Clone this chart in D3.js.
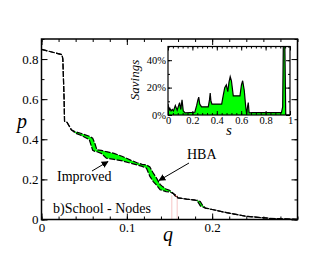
<!DOCTYPE html>
<html>
<head>
<meta charset="utf-8">
<script src="https://cdn.jsdelivr.net/npm/d3@7"></script>
<style>
  body { margin: 0; background: #fff; }
  svg, svg text { font-family: "Liberation Serif", "Times New Roman", "DejaVu Serif", serif; }
</style>
</head>
<body>
<div id="chart"></div>
<script>
// main panel: fraction p vs q for the two strategies
const qVals = [0, 0.012, 0.024, 0.025, 0.0265, 0.027, 0.030, 0.035, 0.040, 0.046, 0.056, 0.060, 0.0625, 0.065,
  0.070, 0.076, 0.085, 0.095, 0.105, 0.112, 0.118, 0.123, 0.127, 0.131, 0.135, 0.139, 0.142, 0.146, 0.150,
  0.154, 0.156, 0.158, 0.160, 0.170, 0.180, 0.183, 0.186, 0.189, 0.192, 0.200, 0.217, 0.240, 0.267, 0.300];
const pHBA = [0.848, 0.835, 0.822, 0.80, 0.60, 0.49, 0.484, 0.447, 0.437, 0.430, 0.415, 0.405, 0.38, 0.347,
  0.345, 0.338, 0.330, 0.314, 0.295, 0.283, 0.275, 0.272, 0.262, 0.231, 0.205, 0.175, 0.164, 0.152, 0.146,
  0.132, 0.120, 0.112, 0.108, 0.102, 0.097, 0.096, 0.090, 0.070, 0.058, 0.050, 0.034, 0.016, 0.006, 0.001];
const pImproved = [0.848, 0.835, 0.822, 0.80, 0.60, 0.49, 0.484, 0.447, 0.430, 0.420, 0.398, 0.345, 0.340, 0.338,
  0.330, 0.306, 0.300, 0.292, 0.280, 0.272, 0.265, 0.256, 0.215, 0.189, 0.170, 0.148, 0.145, 0.139, 0.138,
  0.130, 0.126, 0.119, 0.108, 0.102, 0.097, 0.090, 0.068, 0.062, 0.056, 0.050, 0.034, 0.016, 0.006, 0.001];
const markQ = [0.1527, 0.159];

const qTicks = [0, 0.1, 0.2];
const pTicks = [0, 0.2, 0.4, 0.6, 0.8];

// inset: savings vs s
const sVals = [0, 0.008, 0.015, 0.025, 0.035, 0.045, 0.06, 0.075, 0.095, 0.105, 0.115, 0.125, 0.14, 0.22,
  0.235, 0.245, 0.252, 0.26, 0.275, 0.33, 0.34, 0.346, 0.352, 0.36, 0.44, 0.452, 0.465, 0.478, 0.49, 0.5,
  0.51, 0.52, 0.535, 0.59, 0.602, 0.612, 0.625, 0.637, 0.645, 0.652, 0.658, 0.665, 0.69, 0.93, 0.94, 0.945,
  0.958, 0.965, 1];
const savings = [0.08, 0.03, 0.05, 0.03, 0.04, 0.03, 0.07, 0.035, 0.09, 0.04, 0.11, 0.03, 0.015, 0.02,
  0.07, 0.11, 0.13, 0.08, 0.06, 0.06, 0.11, 0.16, 0.10, 0.08, 0.08, 0.14, 0.20, 0.22, 0.17, 0.24,
  0.28, 0.25, 0.14, 0.14, 0.22, 0.25, 0.18, 0.06, 0.005, 0.06, 0.09, 0.015, 0.017, 0.017, 0.06, 0.50,
  0.50, 0, 0];
const sTicks = [0, 0.2, 0.4, 0.6, 0.8, 1];
const savTicks = [0, 0.2, 0.4];

const W = 335, H = 259;
const serif = '"Liberation Serif", "Times New Roman", "DejaVu Serif", serif';

const svg = d3.select('#chart').append('svg')
  .attr('width', W)
  .attr('height', H)
  .attr('font-family', serif);

const x = d3.scaleLinear().domain([0, 0.3]).range([41.5, 297.5]);
const y = d3.scaleLinear().domain([0, 0.9]).range([219.5, 39]);

const main = svg.append('g').attr('class', 'main');

const pts = qVals.map((q, i) => ({ q, h: pHBA[i], m: pImproved[i] }));

// green: HBA above improved; red: the other way round
main.append('path')
  .datum(pts)
  .attr('fill', '#00ff00')
  .attr('d', d3.area().x(d => x(d.q)).y0(d => y(d.m)).y1(d => y(Math.max(d.h, d.m))));
main.append('path')
  .datum(pts)
  .attr('fill', '#ff0000')
  .attr('d', d3.area().x(d => x(d.q)).y0(d => y(d.h)).y1(d => y(Math.max(d.h, d.m))));

main.selectAll('line.mark')
  .data(markQ)
  .enter().append('line')
  .attr('class', 'mark')
  .attr('x1', d => x(d)).attr('x2', d => x(d))
  .attr('y1', y(0)).attr('y2', y(0.12))
  .attr('stroke', '#f4b8b8')
  .attr('stroke-width', 0.8);

main.append('path')
  .datum(pts)
  .attr('fill', 'none')
  .attr('stroke', '#000')
  .attr('stroke-width', 1.2)
  .attr('stroke-dasharray', '6,1.5')
  .attr('d', d3.line().x(d => x(d.q)).y(d => y(d.m)));
main.append('path')
  .datum(pts)
  .attr('fill', 'none')
  .attr('stroke', '#000')
  .attr('stroke-width', 1.2)
  .attr('stroke-dasharray', '6,1.5')
  .attr('d', d3.line().x(d => x(d.q)).y(d => y(d.h)));

// axes, ticks pointing inward on all four sides
const fmt = d => d === 0 ? '0' : d3.format('.1f')(d);
const minorQ = d3.range(0, 0.3001, 0.02);
const minorP = d3.range(0, 0.9001, 0.1);

const drawAxis = (g, axis) => g.call(axis)
  .attr('font-family', serif)
  .call(a => a.select('.domain').remove());

drawAxis(main.append('g').attr('transform', `translate(0,${y(0)})`),
  d3.axisBottom(x).tickValues(minorQ).tickSize(-3).tickFormat(''));
drawAxis(main.append('g').attr('transform', `translate(0,${y(0)})`),
  d3.axisBottom(x).tickValues(qTicks).tickSize(-6).tickPadding(3).tickFormat(fmt));
drawAxis(main.append('g').attr('transform', `translate(0,${y(0.9)})`),
  d3.axisTop(x).tickValues(minorQ).tickSize(-3).tickFormat(''));
drawAxis(main.append('g').attr('transform', `translate(0,${y(0.9)})`),
  d3.axisTop(x).tickValues(qTicks).tickSize(-6).tickFormat(''));
drawAxis(main.append('g').attr('transform', `translate(${x(0)},0)`),
  d3.axisLeft(y).tickValues(minorP).tickSize(-3).tickFormat(''));
drawAxis(main.append('g').attr('transform', `translate(${x(0)},0)`),
  d3.axisLeft(y).tickValues(pTicks).tickSize(-6).tickPadding(3).tickFormat(fmt));
drawAxis(main.append('g').attr('transform', `translate(${x(0.3)},0)`),
  d3.axisRight(y).tickValues(minorP).tickSize(-3).tickFormat(''));
drawAxis(main.append('g').attr('transform', `translate(${x(0.3)},0)`),
  d3.axisRight(y).tickValues(pTicks).tickSize(-6).tickFormat(''));

main.selectAll('.tick line').attr('stroke', '#000').attr('stroke-width', 1);
main.selectAll('.tick text')
  .attr('fill', '#000')
  .attr('font-size', 13);

main.append('rect')
  .attr('x', x(0)).attr('y', y(0.9))
  .attr('width', x(0.3) - x(0)).attr('height', y(0) - y(0.9))
  .attr('fill', 'none')
  .attr('stroke', '#000')
  .attr('stroke-width', 1.5);

main.append('text')
  .attr('x', 22).attr('y', 128)
  .attr('text-anchor', 'middle')
  .attr('font-style', 'italic')
  .attr('font-size', 20)
  .text('p');
main.append('text')
  .attr('x', 168).attr('y', 241)
  .attr('text-anchor', 'middle')
  .attr('font-style', 'italic')
  .attr('font-size', 20)
  .text('q');

// annotations
svg.append('defs').append('marker')
  .attr('id', 'head')
  .attr('viewBox', '0 0 10 10')
  .attr('refX', 9).attr('refY', 5)
  .attr('markerWidth', 7).attr('markerHeight', 7)
  .attr('markerUnits', 'userSpaceOnUse')
  .attr('orient', 'auto')
  .append('path')
  .attr('d', 'M0,0L10,5L0,10z')
  .attr('fill', '#000');

const notes = main.append('g').attr('font-size', 14);
notes.append('text').attr('x', 57).attr('y', 181).text('Improved');
notes.append('text').attr('x', 187).attr('y', 159).text('HBA');
notes.append('text').attr('x', 53).attr('y', 213).text('b)School - Nodes');

notes.append('line')
  .attr('x1', 92).attr('y1', 171).attr('x2', 108).attr('y2', 161.5)
  .attr('stroke', '#000').attr('stroke-width', 1)
  .attr('marker-end', 'url(#head)');
notes.append('line')
  .attr('x1', 189).attr('y1', 163).attr('x2', 159).attr('y2', 180.5)
  .attr('stroke', '#000').attr('stroke-width', 1)
  .attr('marker-end', 'url(#head)');

// inset
const sx = d3.scaleLinear().domain([0, 1]).range([168, 290]);
const sy = d3.scaleLinear().domain([0, 0.5]).range([115, 46.5]);

const inset = svg.append('g').attr('class', 'inset');

inset.append('clipPath').attr('id', 'insetClip')
  .append('rect')
  .attr('x', sx(0)).attr('y', sy(0.5))
  .attr('width', sx(1) - sx(0)).attr('height', sy(0) - sy(0.5));

const sPts = sVals.map((s, i) => ({ s, v: savings[i] }));
const plot = inset.append('g').attr('clip-path', 'url(#insetClip)');
plot.append('path')
  .datum(sPts)
  .attr('fill', '#00ff00')
  .attr('d', d3.area().x(d => sx(d.s)).y0(sy(0)).y1(d => sy(d.v)));
plot.append('path')
  .datum(sPts)
  .attr('fill', 'none')
  .attr('stroke', '#000')
  .attr('stroke-width', 1.2)
  .attr('d', d3.line().x(d => sx(d.s)).y(d => sy(d.v)));

const minorS = d3.range(0, 1.0001, 0.04);
const minorSav = d3.range(0, 0.5001, 0.1);

drawAxis(inset.append('g').attr('transform', `translate(0,${sy(0)})`),
  d3.axisBottom(sx).tickValues(minorS).tickSize(-2).tickFormat(''));
drawAxis(inset.append('g').attr('transform', `translate(0,${sy(0)})`),
  d3.axisBottom(sx).tickValues(sTicks).tickSize(-4).tickPadding(2).tickFormat(d3.format('~g')));
drawAxis(inset.append('g').attr('transform', `translate(0,${sy(0.5)})`),
  d3.axisTop(sx).tickValues(minorS).tickSize(-2).tickFormat(''));
drawAxis(inset.append('g').attr('transform', `translate(0,${sy(0.5)})`),
  d3.axisTop(sx).tickValues(sTicks).tickSize(-4).tickFormat(''));
drawAxis(inset.append('g').attr('transform', `translate(${sx(0)},0)`),
  d3.axisLeft(sy).tickValues(minorSav).tickSize(-2).tickFormat(''));
drawAxis(inset.append('g').attr('transform', `translate(${sx(0)},0)`),
  d3.axisLeft(sy).tickValues(savTicks).tickSize(-4).tickPadding(2).tickFormat(d3.format('.0%')));
drawAxis(inset.append('g').attr('transform', `translate(${sx(1)},0)`),
  d3.axisRight(sy).tickValues(minorSav).tickSize(-2).tickFormat(''));
drawAxis(inset.append('g').attr('transform', `translate(${sx(1)},0)`),
  d3.axisRight(sy).tickValues(savTicks).tickSize(-4).tickFormat(''));

inset.selectAll('.tick line').attr('stroke', '#000').attr('stroke-width', 1);
inset.selectAll('.tick text')
  .attr('fill', '#000')
  .attr('font-size', 10.5);

inset.append('rect')
  .attr('x', sx(0)).attr('y', sy(0.5))
  .attr('width', sx(1) - sx(0)).attr('height', sy(0) - sy(0.5))
  .attr('fill', 'none')
  .attr('stroke', '#000')
  .attr('stroke-width', 1.2);

inset.append('text')
  .attr('transform', 'translate(139,80) rotate(-90)')
  .attr('text-anchor', 'middle')
  .attr('font-style', 'italic')
  .attr('font-size', 13)
  .text('Savings');
inset.append('text')
  .attr('x', 229).attr('y', 135)
  .attr('text-anchor', 'middle')
  .attr('font-style', 'italic')
  .attr('font-size', 15)
  .text('s');
</script>
</body>
</html>
